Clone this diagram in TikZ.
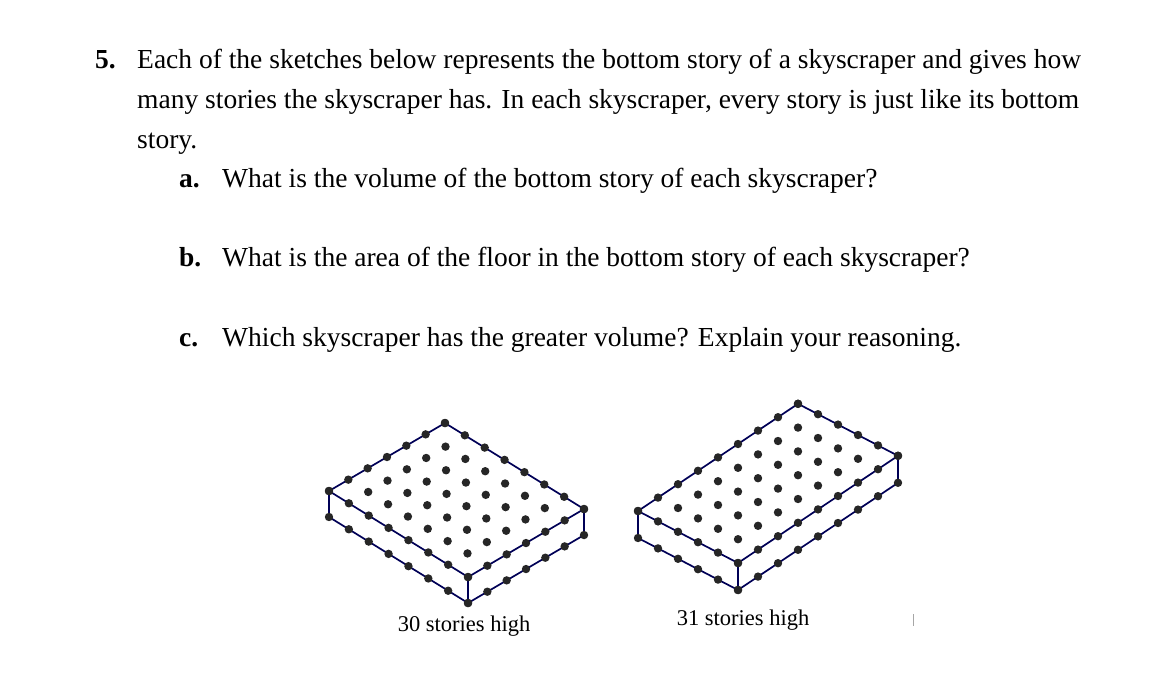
\documentclass[tikz,border=0pt]{standalone}
\usepackage{fontspec}
\setmainfont{Liberation Serif}
\usetikzlibrary{calc}
\newcommand{\skybox}[9]{%
\coordinate (L) at (#1,#2);
\coordinate (T) at ($(L)+#7*(#3,#4)$);
\coordinate (F) at ($(L)+#8*(#5,#6)$);
\coordinate (R) at ($(T)+#8*(#5,#6)$);
\coordinate (Lb) at ($(L)+(0,#9)$);
\coordinate (Fb) at ($(F)+(0,#9)$);
\coordinate (Rb) at ($(R)+(0,#9)$);
\draw[edge] (L)--(T)--(R)--(F)--cycle (L)--(Lb)--(Fb)--(Rb)--(R) (F)--(Fb);
\foreach \i in {0,...,#7}{\fill[dot] ($(L)+\i*(#3,#4)$) circle (4.2); \fill[dot] ($(F)+\i*(#3,#4)$) circle (4.2); \fill[dot] ($(Fb)+\i*(#3,#4)$) circle (4.2);}
\foreach \j in {0,...,#8}{\fill[dot] ($(L)+\j*(#5,#6)$) circle (4.2); \fill[dot] ($(T)+\j*(#5,#6)$) circle (4.2); \fill[dot] ($(Lb)+\j*(#5,#6)$) circle (4.2);}
\pgfmathtruncatemacro\nn{#7-1}\pgfmathtruncatemacro\mm{#8-1}
\foreach \i in {1,...,\nn}{\foreach \j in {1,...,\mm}{\fill[dot] ($(L)+\i*(#3,#4)+\j*(#5,#6)$) circle (4.2);}}
}
\begin{document}
\begin{tikzpicture}[x=1pt,y=-1pt,
  txt/.style={anchor=base west,inner sep=0,font=\fontsize{27.5}{32}\selectfont},
  lbl/.style={anchor=base,inner sep=0,font=\fontsize{22.5}{26}\selectfont},
  dot/.style={black!85},
  edge/.style={draw=black!55!blue!75!black,line width=1.7pt}]
\useasboundingbox (0,0) rectangle (1174,692);
\node[txt] (n5) at (95,69) {\textbf{5.}};
\node[txt] (l1) at (137,69) {Each of the sketches below represents the bottom story of a skyscraper and gives how};
\node[txt] (l2) at (137,109) {many stories the skyscraper has. In each skyscraper, every story is just like its bottom};
\node[txt] (l3) at (137,149) {story.};
\node[txt] (na) at (179,188) {\textbf{a.}};
\node[txt] (la) at (222,188) {What is the volume of the bottom story of each skyscraper?};
\node[txt] (nb) at (179,267) {\textbf{b.}};
\node[txt] (lb) at (222,267) {What is the area of the floor in the bottom story of each skyscraper?};
\node[txt] (nc) at (179,346) {\textbf{c.}};
\node[txt] (lc) at (222,346) {Which skyscraper has the greater volume? Explain your reasoning.};
\skybox{329}{491}{19.33}{-11.33}{19.86}{12.29}{6}{7}{26}
\skybox{638}{511}{20}{-13.4}{20}{10.4}{8}{5}{27}
\node[lbl] (c1) at (464,631) {30 stories high};
\node[lbl] (c2) at (743,625) {31 stories high};
\draw[gray!70,line width=0.8pt] (913,614)--(913,626);
\end{tikzpicture}
\end{document}
